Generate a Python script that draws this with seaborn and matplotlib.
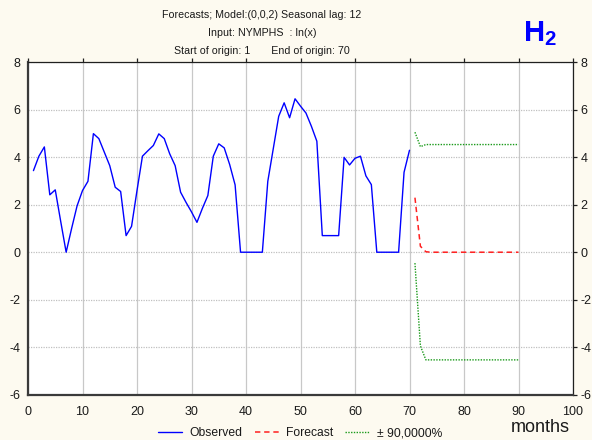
import matplotlib
matplotlib.use("Agg")
import matplotlib.pyplot as plt
import pandas as pd
import seaborn as sns
from matplotlib.lines import Line2D

# Observed log series, months 1..70
obs_months = list(range(1, 71))
observed = [
    3.44, 4.05, 4.44, 2.42, 2.63, 1.30, 0.00, 1.00, 1.95, 2.60,
    2.99, 5.00, 4.79, 4.22, 3.65, 2.74, 2.56, 0.70, 1.09, 2.60,
    4.05, 4.28, 4.50, 4.99, 4.79, 4.15, 3.65, 2.53, 2.10, 1.70,
    1.26, 1.85, 2.39, 4.05, 4.57, 4.40, 3.70, 2.84, 0.00, 0.00,
    0.00, 0.00, 0.00, 2.99, 4.36, 5.73, 6.30, 5.67, 6.47, 6.16,
    5.87, 5.31, 4.68, 0.70, 0.70, 0.70, 0.70, 4.00, 3.68, 3.96,
    4.05, 3.22, 2.85, 0.00, 0.00, 0.00, 0.00, 0.00, 3.37, 4.30,
]

# Forecast horizon, months 71..90
fc_months = list(range(71, 91))
forecast = [
    2.30, 0.25, 0.02, 0.00, 0.00, 0.00, 0.00, 0.00, 0.00, 0.00,
    0.00, 0.00, 0.00, 0.00, 0.00, 0.00, 0.00, 0.00, 0.00, 0.00,
]
upper = [
    5.06, 4.45, 4.54, 4.54, 4.54, 4.54, 4.54, 4.54, 4.54, 4.54,
    4.54, 4.54, 4.54, 4.54, 4.54, 4.54, 4.54, 4.54, 4.54, 4.54,
]
lower = [
    -0.46, -3.95, -4.54, -4.54, -4.54, -4.54, -4.54, -4.54, -4.54, -4.54,
    -4.54, -4.54, -4.54, -4.54, -4.54, -4.54, -4.54, -4.54, -4.54, -4.54,
]

x_ticks = [0, 10, 20, 30, 40, 50, 60, 70, 80, 90, 100]
y_ticks = [-6, -4, -2, 0, 2, 4, 6, 8]
title_lines = [
    "Forecasts; Model:(0,0,2) Seasonal lag: 12",
    "Input: NYMPHS  : ln(x)",
    "Start of origin: 1       End of origin: 70",
]
legend_labels = ["Observed", "Forecast", "\u00b1 90,0000%"]

BG = "#FDFAF0"
BLUE = "#0000FF"
RED = "#FF2020"
GREEN = "#1A9A1A"

sns.set_theme(style="white")
plt.rcParams["font.family"] = ["Liberation Sans", "DejaVu Sans"]
plt.rcParams["mathtext.fontset"] = "custom"
plt.rcParams["mathtext.bf"] = "Liberation Sans:bold"
plt.rcParams["mathtext.rm"] = "Liberation Sans"

W, H = 592, 440
fig = plt.figure(figsize=(W / 100, H / 100), dpi=100, facecolor=BG)
ax = fig.add_axes([28 / W, 1 - 394.5 / H, (573 - 28) / W, (394.5 - 62.5) / H])
ax.set_facecolor("white")

obs_df = pd.DataFrame({"month": obs_months, "value": observed})
fc_df = pd.DataFrame({"month": fc_months, "forecast": forecast,
                      "upper": upper, "lower": lower})

sns.lineplot(data=obs_df, x="month", y="value", ax=ax, color=BLUE,
             linewidth=1.0, zorder=3)
sns.lineplot(data=fc_df, x="month", y="forecast", ax=ax, color=RED,
             linewidth=1.1, linestyle=(0, (3.5, 2.5)), zorder=3)
sns.lineplot(data=fc_df, x="month", y="upper", ax=ax, color=GREEN,
             linewidth=1.0, linestyle=(0, (1, 1)), zorder=3)
sns.lineplot(data=fc_df, x="month", y="lower", ax=ax, color=GREEN,
             linewidth=1.0, linestyle=(0, (1, 1)), zorder=3)

ax.set_xlim(0, 100)
ax.set_ylim(-6, 8)
ax.set_xticks(x_ticks)
ax.set_yticks(y_ticks)
ax.set_xticklabels([str(v) for v in x_ticks])
ax.set_yticklabels([str(v) for v in y_ticks])
ax.set_xlabel("")
ax.set_ylabel("")

ax.xaxis.grid(True, color="#c8c8c8", linewidth=0.9, linestyle="-")
ax.yaxis.grid(True, color="#c0c0c0", linewidth=0.9, linestyle=(0, (1, 1)))
ax.set_axisbelow(True)

for side in ("left", "bottom"):
    ax.spines[side].set_color("#3a3a3a")
    ax.spines[side].set_linewidth(1.6)
for side in ("top", "right"):
    ax.spines[side].set_color("#202020")
    ax.spines[side].set_linewidth(0.9)

ax.tick_params(axis="x", which="major", bottom=True, top=True,
               labelbottom=True, labeltop=False, direction="out",
               length=3, width=0.9, color="#202020", pad=5.5,
               labelsize=9, labelcolor="#1a1a1a")
ax.tick_params(axis="y", which="major", left=True, right=True,
               labelleft=True, labelright=True, direction="out",
               length=3, width=0.9, color="#202020", pad=2.2,
               labelsize=9, labelcolor="#1a1a1a")
for t in ax.xaxis.get_major_ticks():
    t.tick1line.set_visible(False)
for t in ax.yaxis.get_major_ticks():
    t.tick1line.set_visible(False)

for i, line in enumerate(title_lines):
    fig.text(262 / W, 1 - (15.5 + 17.5 * i) / H, line, ha="center",
             va="center", fontsize=7.7, color="#1a1a1a")

fig.text(540 / W, 1 - 34 / H, r"$\mathbf{H_2}$", ha="center", va="center",
         fontsize=21, color=BLUE)
fig.text(540 / W, 1 - 427 / H, "months", ha="center", va="center",
         fontsize=13, color="#1a1a1a")

handles = [
    Line2D([], [], color=BLUE, linewidth=1.0),
    Line2D([], [], color=RED, linewidth=1.1, linestyle=(0, (3.5, 2.5))),
    Line2D([], [], color=GREEN, linewidth=1.0, linestyle=(0, (1, 1))),
]
fig.legend(handles, legend_labels, loc="center", ncol=3,
           bbox_to_anchor=(300 / W, 1 - 433 / H), frameon=False,
           fontsize=8.7, handlelength=2.0, handletextpad=0.6,
           columnspacing=1.0, labelcolor="#1a1a1a")

fig.savefig("out.png", dpi=100, facecolor=BG)
